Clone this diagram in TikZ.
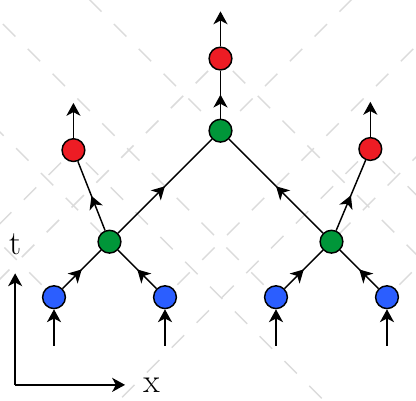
\documentclass[tikz,border=0pt]{standalone}
\usepackage{tikz}
\usetikzlibrary{positioning}
\usetikzlibrary{arrows.meta}
\usetikzlibrary{decorations.markings}
\usetikzlibrary{backgrounds}
\definecolor{inblue}{RGB}{43,94,255}
\definecolor{vgreen}{RGB}{0,150,57}
\definecolor{outred}{RGB}{237,28,36}
\tikzset{
  event/.style={circle, draw, line width=0.75pt, minimum size=0.41cm, inner sep=0pt},
  cone/.style={black!14, line width=0.75pt, dash pattern=on 9pt off 9pt, dash phase=9pt},
  midarrow/.style={postaction={decorate}, decoration={markings, mark=at position 0.5 with {\arrow{>}}}},
  axlabel/.style={font=\LARGE}
}

\begin{document}
\begin{tikzpicture}[>={Stealth[length=6.6pt,width=7.2pt,inset=1.9pt]}, line width=0.75pt]
\useasboundingbox (-0.973,-1.870) rectangle (6.523,5.355);
% incoming particles
\node[event, fill=inblue] (b1) at (0,0) {};
\node[event, fill=inblue] (b2) at (2,0) {};
\node[event, fill=inblue] (b3) at (4,0) {};
\node[event, fill=inblue] (b4) at (6,0) {};
% vertices
\node[event, fill=vgreen] (gl) at (1,1) {};
\node[event, fill=vgreen] (gr) at (5,1) {};
\node[event, fill=vgreen] (gt) at (3,3) {};
% outgoing particles
\node[event, fill=outred] (rl) at (0.35,2.65) {};
\node[event, fill=outred] (rt) at (3,4.3) {};
\node[event, fill=outred] (rr) at (5.7,2.67) {};

% light cones
\begin{scope}[on background layer]
\clip (-0.973,-1.870) rectangle (6.523,5.355);
\foreach \n in {b1,b2,b3,b4} {
\draw[cone] (\n.center) -- ++(-8,8);
\draw[cone] (\n.center) -- ++(8,8);
}
\foreach \n in {rl,rt,rr} {
\draw[cone] (\n.center) -- ++(-8,-8);
\draw[cone] (\n.center) -- ++(8,-8);
}
\end{scope}

\foreach \n/\x in {b1/0,b2/2,b3/4,b4/6} {
\coordinate (in\n) at (\x,-0.874);
\draw[->] (in\n) -- (\n);
}
\draw[midarrow] (b1) -- (gl);
\draw[midarrow] (b2) -- (gl);
\draw[midarrow] (b3) -- (gr);
\draw[midarrow] (b4) -- (gr);
\draw[midarrow] (gl) -- (gt);
\draw[midarrow] (gr) -- (gt);
\draw[midarrow] (gl) -- (rl);
\draw[midarrow] (gr) -- (rr);
\draw[midarrow] (gt) -- (rt);
\foreach \n in {rl,rt,rr} {
\coordinate[above=0.85cm of \n.center] (out\n);
\draw[->] (\n) -- (out\n);
}

% axes
\coordinate (orig) at (-0.7,-1.58);
\coordinate (tend) at (-0.7,0.43);
\coordinate (xend) at (1.28,-1.58);
\draw[->] (orig) -- (tend);
\draw[->] (orig) -- (xend);
\node[axlabel, above=0.2cm of tend] (tlab) {t};
\node[axlabel, right=0.2cm of xend] (xlab) {x};
\end{tikzpicture}
\end{document}
